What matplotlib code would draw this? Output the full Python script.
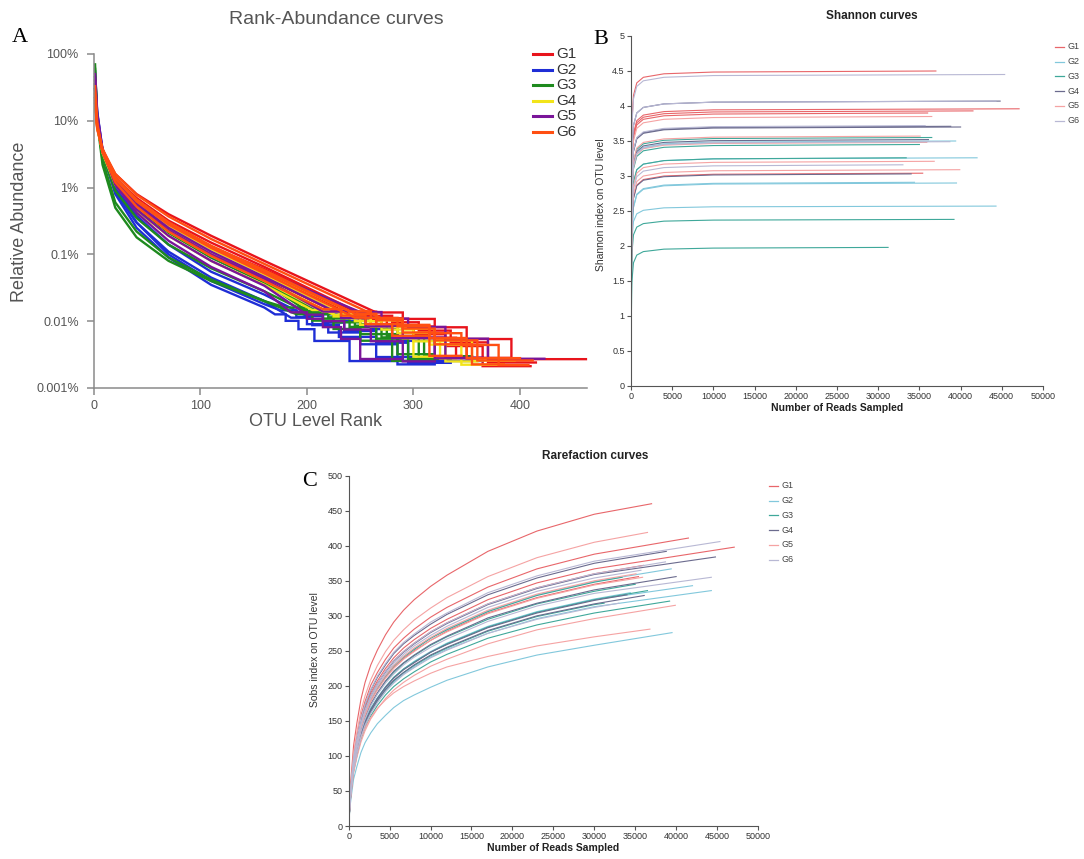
#
# three panel figure: rank-abundance (A), shannon rarefaction (B), sobs rarefaction (C)
# 6 groups x 5 samples
#

import matplotlib
matplotlib.use('Agg')
import matplotlib.pyplot as plt
from matplotlib.lines import Line2D

plt.rcParams['font.family'] = ['Liberation Sans', 'DejaVu Sans']

#################################################################################
###
### DATA
###
#################################################################################

GROUPS = ['G1', 'G2', 'G3', 'G4', 'G5', 'G6']

# group index of every sample
SAMPLE_GROUP = [0, 0, 0, 0, 0,
                1, 1, 1, 1, 1,
                2, 2, 2, 2, 2,
                3, 3, 3, 3, 3,
                4, 4, 4, 4, 4,
                5, 5, 5, 5, 5]

# total reads sampled per sample (end of the rarefaction curves)
DEPTH = [37000, 47100, 41500, 35400, 36000,
         42000, 34400, 39500, 44300, 39400,
         36500, 33400, 39200, 31200, 35000,
         44800, 40000, 38800, 34000, 36100,
         36500, 35100, 35900, 36800, 39900,
         45350, 44300, 35700, 33000, 38700]

# --- panel A: relative abundance (%) at these ranks, then the low count steps
RA_RANK = [1, 3, 8, 20, 40, 70, 110, 160]
RA_TOP = [
    [18, 7.5, 3.6, 1.6, 0.8, 0.4, 0.19, 0.08],
    [30, 9, 3.8, 1.4, 0.65, 0.3, 0.13, 0.055],
    [22, 8, 3.5, 1.4, 0.7, 0.32, 0.15, 0.065],
    [35, 9, 3.2, 1.1, 0.5, 0.22, 0.1, 0.045],
    [25, 8.5, 3.6, 1.35, 0.62, 0.28, 0.13, 0.06],
    [30, 10, 3.2, 1.0, 0.38, 0.14, 0.055, 0.025],
    [40, 12, 3.2, 0.85, 0.3, 0.1, 0.04, 0.018],
    [45, 13, 3.5, 0.8, 0.25, 0.09, 0.035, 0.016],
    [55, 14, 3.6, 0.9, 0.3, 0.11, 0.045, 0.02],
    [28, 9, 3.4, 1.3, 0.55, 0.22, 0.09, 0.038],
    [35, 10, 3.2, 0.9, 0.35, 0.14, 0.062, 0.028],
    [30, 9, 3.3, 1.2, 0.52, 0.22, 0.095, 0.04],
    [60, 11, 2.6, 0.6, 0.22, 0.09, 0.042, 0.02],
    [70, 10, 2.2, 0.5, 0.18, 0.08, 0.04, 0.02],
    [32, 9, 3.4, 1.2, 0.5, 0.21, 0.09, 0.038],
    [22, 8, 3.4, 1.3, 0.6, 0.27, 0.12, 0.05],
    [28, 9, 3.5, 1.25, 0.55, 0.24, 0.1, 0.042],
    [20, 8, 3.6, 1.4, 0.65, 0.3, 0.13, 0.055],
    [38, 10, 3.3, 1.1, 0.45, 0.19, 0.08, 0.035],
    [30, 9, 3.4, 1.2, 0.52, 0.22, 0.095, 0.04],
    [45, 9, 3.6, 1.4, 0.65, 0.3, 0.13, 0.055],
    [30, 9, 3.5, 1.3, 0.58, 0.25, 0.11, 0.046],
    [35, 9.5, 3.4, 1.25, 0.55, 0.23, 0.1, 0.043],
    [50, 13, 3.8, 1.1, 0.42, 0.16, 0.065, 0.028],
    [40, 11, 3.6, 1.15, 0.47, 0.19, 0.08, 0.034],
    [20, 8, 3.8, 1.6, 0.78, 0.37, 0.17, 0.072],
    [26, 8.5, 3.5, 1.35, 0.62, 0.28, 0.125, 0.052],
    [24, 8.5, 3.6, 1.4, 0.65, 0.3, 0.13, 0.056],
    [33, 9.5, 3.4, 1.2, 0.52, 0.22, 0.095, 0.04],
    [22, 8, 3.5, 1.4, 0.66, 0.3, 0.135, 0.058],
]
# read counts of the tail steps and the rank where each step starts (+ last rank)
STEP_READS = [5, 4, 3, 2, 1]
RA_STEP = [
    [265, 290, 320, 350, 392, 462],
    [250, 275, 300, 330, 365, 410],
    [255, 280, 305, 335, 370, 415],
    [225, 245, 270, 300, 340, 390],
    [245, 265, 290, 320, 350, 400],
    [200, 215, 235, 265, 295, 335],
    [175, 190, 205, 230, 265, 300],
    [170, 180, 192, 207, 240, 300],
    [185, 200, 220, 250, 285, 320],
    [215, 235, 260, 285, 320, 365],
    [200, 215, 240, 265, 295, 335],
    [205, 225, 250, 275, 310, 355],
    [190, 205, 225, 250, 280, 320],
    [180, 200, 225, 250, 285, 318],
    [200, 220, 245, 270, 305, 345],
    [240, 260, 285, 315, 345, 385],
    [225, 245, 270, 300, 330, 360],
    [245, 265, 290, 320, 355, 395],
    [205, 225, 250, 280, 300, 335],
    [215, 235, 260, 290, 325, 340],
    [250, 270, 295, 330, 370, 423],
    [225, 245, 265, 290, 330, 365],
    [215, 232, 255, 280, 320, 360],
    [185, 200, 215, 232, 250, 290],
    [200, 215, 235, 260, 290, 320],
    [270, 290, 315, 345, 380, 408],
    [245, 265, 290, 320, 355, 385],
    [240, 260, 285, 315, 350, 400],
    [215, 232, 255, 280, 315, 345],
    [245, 265, 290, 320, 360, 412],
]

# --- panel B: shannon index at these depths, last value is at DEPTH
SH_GRID = [0, 100, 300, 700, 1500, 4000, 10000]
SHANNON = [
    [0.6, 3.75, 4.15, 4.33, 4.41, 4.46, 4.485, 4.50],
    [0.6, 3.21, 3.61, 3.79, 3.87, 3.92, 3.945, 3.96],
    [0.6, 3.18, 3.58, 3.76, 3.84, 3.89, 3.915, 3.93],
    [0.6, 2.29, 2.69, 2.87, 2.95, 3.00, 3.025, 3.04],
    [0.6, 3.15, 3.55, 3.73, 3.81, 3.86, 3.885, 3.90],
    [0.6, 2.51, 2.91, 3.09, 3.17, 3.22, 3.245, 3.26],
    [0.6, 2.16, 2.56, 2.74, 2.82, 2.87, 2.895, 2.91],
    [0.6, 2.15, 2.55, 2.73, 2.81, 2.86, 2.885, 2.90],
    [0.6, 2.07, 2.35, 2.46, 2.51, 2.545, 2.56, 2.57],
    [0.6, 2.75, 3.15, 3.33, 3.41, 3.46, 3.485, 3.50],
    [0.6, 2.80, 3.20, 3.38, 3.46, 3.51, 3.535, 3.55],
    [0.6, 2.51, 2.91, 3.09, 3.17, 3.22, 3.245, 3.26],
    [0.6, 1.88, 2.16, 2.27, 2.32, 2.355, 2.37, 2.38],
    [0.6, 1.48, 1.76, 1.87, 1.92, 1.955, 1.97, 1.98],
    [0.6, 2.70, 3.10, 3.28, 3.36, 3.41, 3.435, 3.45],
    [0.6, 3.32, 3.72, 3.90, 3.98, 4.03, 4.055, 4.07],
    [0.6, 2.95, 3.35, 3.53, 3.61, 3.66, 3.685, 3.70],
    [0.6, 2.96, 3.36, 3.54, 3.62, 3.67, 3.695, 3.71],
    [0.6, 2.28, 2.68, 2.86, 2.94, 2.99, 3.015, 3.03],
    [0.6, 2.77, 3.17, 3.35, 3.43, 3.48, 3.505, 3.52],
    [0.6, 3.10, 3.50, 3.68, 3.76, 3.81, 3.835, 3.85],
    [0.6, 2.82, 3.22, 3.40, 3.48, 3.53, 3.555, 3.57],
    [0.6, 2.73, 3.13, 3.31, 3.39, 3.44, 3.465, 3.48],
    [0.6, 2.46, 2.86, 3.04, 3.12, 3.17, 3.195, 3.21],
    [0.6, 2.34, 2.74, 2.92, 3.00, 3.05, 3.075, 3.09],
    [0.6, 3.70, 4.10, 4.28, 4.36, 4.41, 4.435, 4.45],
    [0.6, 3.32, 3.72, 3.90, 3.98, 4.03, 4.055, 4.07],
    [0.6, 2.97, 3.37, 3.55, 3.63, 3.68, 3.705, 3.72],
    [0.6, 2.41, 2.81, 2.99, 3.07, 3.12, 3.145, 3.16],
    [0.6, 2.74, 3.14, 3.32, 3.40, 3.45, 3.475, 3.49],
]

# --- panel C: observed OTUs at these depths, last value is at DEPTH
RF_GRID = [0, 150, 300, 600, 1000, 1500, 2000, 2700, 3500, 4500, 5500, 6700,
           8000, 10000, 12000, 17000, 23000, 30000]
SOBS = [
    [0, 44, 71, 115, 147, 181, 205, 230, 251, 273, 291, 308, 323, 342, 358, 392, 421, 445, 460],
    [0, 37, 59, 95, 121, 149, 169, 190, 207, 225, 240, 254, 266, 282, 295, 323, 347, 367, 398],
    [0, 39, 62, 100, 128, 158, 178, 201, 219, 238, 254, 268, 281, 298, 312, 341, 367, 388, 411],
    [0, 35, 55, 89, 114, 140, 159, 178, 195, 212, 226, 239, 250, 265, 278, 304, 326, 345, 356],
    [0, 36, 58, 93, 119, 147, 166, 186, 203, 221, 236, 249, 261, 277, 290, 317, 340, 360, 372],
    [0, 32, 52, 83, 107, 131, 149, 167, 182, 198, 212, 224, 234, 248, 260, 284, 305, 323, 343],
    [0, 32, 52, 84, 107, 132, 149, 168, 183, 199, 212, 224, 235, 249, 261, 285, 306, 324, 333],
    [0, 26, 41, 67, 85, 105, 119, 133, 146, 158, 169, 179, 187, 198, 208, 227, 244, 258, 276],
    [0, 31, 50, 81, 103, 127, 144, 162, 177, 192, 205, 217, 227, 241, 252, 275, 296, 313, 336],
    [0, 35, 56, 90, 115, 142, 161, 180, 197, 214, 229, 242, 253, 268, 281, 307, 330, 349, 367],
    [0, 32, 52, 83, 107, 131, 149, 167, 182, 198, 212, 224, 234, 248, 260, 284, 305, 323, 336],
    [0, 35, 56, 90, 115, 142, 160, 180, 197, 214, 228, 241, 252, 268, 280, 306, 329, 348, 355],
    [0, 30, 49, 78, 100, 124, 140, 157, 172, 187, 199, 210, 220, 234, 245, 268, 287, 304, 321],
    [0, 32, 51, 82, 104, 129, 145, 163, 179, 194, 207, 219, 229, 243, 254, 278, 299, 316, 318],
    [0, 34, 54, 86, 111, 136, 154, 173, 189, 206, 219, 232, 243, 258, 270, 295, 317, 335, 345],
    [0, 36, 57, 93, 118, 146, 165, 186, 203, 220, 235, 248, 260, 276, 289, 316, 339, 359, 384],
    [0, 34, 54, 87, 111, 137, 155, 174, 190, 207, 221, 233, 244, 259, 271, 297, 318, 337, 356],
    [0, 38, 60, 97, 124, 153, 173, 194, 212, 230, 246, 260, 272, 288, 302, 330, 354, 375, 392],
    [0, 32, 52, 83, 106, 131, 148, 166, 182, 198, 211, 223, 233, 248, 259, 283, 304, 322, 330],
    [0, 32, 51, 82, 105, 129, 146, 164, 179, 195, 208, 219, 230, 244, 255, 279, 300, 317, 329],
    [0, 41, 65, 104, 134, 165, 186, 209, 229, 249, 265, 280, 294, 311, 326, 356, 383, 405, 419],
    [0, 35, 56, 90, 116, 142, 161, 181, 198, 215, 229, 242, 254, 269, 282, 308, 331, 350, 360],
    [0, 34, 55, 89, 114, 140, 158, 178, 194, 211, 225, 238, 249, 265, 277, 303, 325, 344, 355],
    [0, 30, 50, 82, 105, 126, 140, 155, 168, 180, 190, 199, 207, 218, 227, 242, 257, 270, 281],
    [0, 30, 47, 76, 98, 120, 136, 153, 167, 182, 194, 205, 215, 228, 238, 260, 280, 296, 315],
    [0, 38, 60, 98, 125, 154, 174, 195, 214, 232, 248, 262, 274, 291, 304, 333, 357, 378, 406],
    [0, 33, 53, 86, 110, 135, 153, 172, 188, 204, 217, 230, 241, 255, 267, 292, 314, 332, 355],
    [0, 35, 57, 91, 117, 144, 163, 183, 200, 217, 232, 245, 257, 272, 285, 312, 335, 354, 365],
    [0, 31, 50, 80, 103, 127, 144, 161, 176, 192, 204, 216, 226, 240, 251, 275, 295, 312, 318],
    [0, 36, 58, 93, 119, 147, 166, 186, 203, 221, 236, 249, 261, 277, 290, 317, 340, 360, 377],
]

#################################################################################
###
### STYLE
###
#################################################################################

COLORS_A = ['#e8141c', '#1f2ed6', '#1e8a1e', '#f2e41a', '#7a1599', '#ff4f12']
COLORS_BC = ['#e8666a', '#82c8dc', '#3fa89a', '#6b6b8e', '#f5a3a3', '#b8b8d4']

W, H = 1084, 859


def fx(px):
    return px / W


def fy(py):
    return 1 - py / H


def rect(left, top, right, bottom):
    return [fx(left), fy(bottom), (right - left) / W, (bottom - top) / H]


fig = plt.figure(figsize=(W / 100, H / 100), dpi=100)
fig.patch.set_facecolor('white')

#################################################################################
### panel A
#################################################################################

axA = fig.add_axes(rect(94, 54, 587, 388))
for i in range(len(SAMPLE_GROUP)):
    g = SAMPLE_GROUP[i]
    lev = [c / DEPTH[i] * 100 for c in STEP_READS]
    st = RA_STEP[i]
    xs = list(RA_RANK) + [st[0]]
    ys = list(RA_TOP[i]) + [lev[0]]
    for k in range(1, len(STEP_READS)):
        xs += [st[k], st[k]]
        ys += [lev[k - 1], lev[k]]
    xs.append(st[-1])
    ys.append(lev[-1])
    axA.plot(xs, ys, color=COLORS_A[g], lw=1.7, solid_joinstyle='miter', clip_on=False)

axA.set_yscale('log')
axA.set_xlim(0, 463)
axA.set_ylim(0.001, 100)
axA.set_yticks([0.001, 0.01, 0.1, 1, 10, 100])
axA.set_yticklabels(['0.001%', '0.01%', '0.1%', '1%', '10%', '100%'])
axA.minorticks_off()
axA.set_xticks([0, 100, 200, 300, 400])
for s in ['top', 'right']:
    axA.spines[s].set_visible(False)
for s in ['left', 'bottom']:
    axA.spines[s].set_color('#8a8a8a')
    axA.spines[s].set_linewidth(1.1)
axA.tick_params(axis='both', length=5, width=1.1, color='#8a8a8a', labelsize=9, labelcolor='#555555')
axA.tick_params(axis='y', pad=6)
axA.tick_params(axis='x', pad=4)

fig.text(fx(336), fy(19), 'Rank-Abundance curves', ha='center', va='center', fontsize=14, color='#555555')
fig.text(fx(20), fy(222), 'Relative Abundance', ha='center', va='center', rotation=90, fontsize=13, color='#555555')
fig.text(fx(316), fy(421), 'OTU Level Rank', ha='center', va='center', fontsize=13, color='#555555')
fig.text(fx(20), fy(38), 'A', ha='center', va='center', fontsize=16, family='Liberation Serif')

for k, name in enumerate(GROUPS):
    yy = fy(54 + 15.6 * k)
    fig.add_artist(Line2D([fx(533), fx(552)], [yy, yy], color=COLORS_A[k], lw=2.2))
    fig.text(fx(556), yy, name, ha='left', va='center', fontsize=11, color='#333333')

#################################################################################
### panels B and C share the same look
#################################################################################


def style_bc(ax):
    for s in ['top', 'right']:
        ax.spines[s].set_visible(False)
    for s in ['left', 'bottom']:
        ax.spines[s].set_color('#555555')
        ax.spines[s].set_linewidth(0.8)
    ax.tick_params(axis='both', length=3, width=0.8, color='#555555', labelsize=6.5,
                   labelcolor='#333333', pad=1.5)
    ax.set_xlim(0, 50000)
    ax.set_xticks(range(0, 50001, 5000))


def legend_bc(x0, y0):
    for k, name in enumerate(GROUPS):
        yy = fy(y0 + 14.8 * k)
        fig.add_artist(Line2D([fx(x0), fx(x0 + 9)], [yy, yy], color=COLORS_BC[k], lw=0.9))
        fig.text(fx(x0 + 12.5), yy, name, ha='left', va='center', fontsize=6.5, color='#444444')


### panel B
axB = fig.add_axes(rect(631, 36, 1043, 386))
for i in range(len(SAMPLE_GROUP)):
    axB.plot(SH_GRID + [DEPTH[i]], SHANNON[i], color=COLORS_BC[SAMPLE_GROUP[i]], lw=0.8)
style_bc(axB)
axB.set_ylim(0, 5)
yt = [k * 0.5 for k in range(11)]
axB.set_yticks(yt)
axB.set_yticklabels(['%g' % v for v in yt])

fig.text(fx(872), fy(16), 'Shannon curves', ha='center', va='center', fontsize=8.5, fontweight='bold', color='#222222')
fig.text(fx(601), fy(205), 'Shannon index on OTU level', ha='center', va='center', rotation=90, fontsize=7.5, color='#333333')
fig.text(fx(837), fy(408), 'Number of Reads Sampled', ha='center', va='center', fontsize=7.5, fontweight='bold', color='#222222')
fig.text(fx(601), fy(40), 'B', ha='center', va='center', fontsize=16, family='Liberation Serif')
legend_bc(1055, 46.7)

### panel C
axC = fig.add_axes(rect(348.7, 475.7, 758, 826))
for i in range(len(SAMPLE_GROUP)):
    axC.plot(RF_GRID + [DEPTH[i]], SOBS[i], color=COLORS_BC[SAMPLE_GROUP[i]], lw=0.8)
style_bc(axC)
axC.set_ylim(0, 500)
axC.set_yticks(range(0, 501, 50))

fig.text(fx(595), fy(456), 'Rarefaction curves', ha='center', va='center', fontsize=8.5, fontweight='bold', color='#222222')
fig.text(fx(315), fy(650), 'Sobs index on OTU level', ha='center', va='center', rotation=90, fontsize=7.5, color='#333333')
fig.text(fx(553), fy(848), 'Number of Reads Sampled', ha='center', va='center', fontsize=7.5, fontweight='bold', color='#222222')
fig.text(fx(310), fy(481), 'C', ha='center', va='center', fontsize=16, family='Liberation Serif')
legend_bc(769, 485.7)

fig.savefig('out.png', dpi=100)
plt.close()
